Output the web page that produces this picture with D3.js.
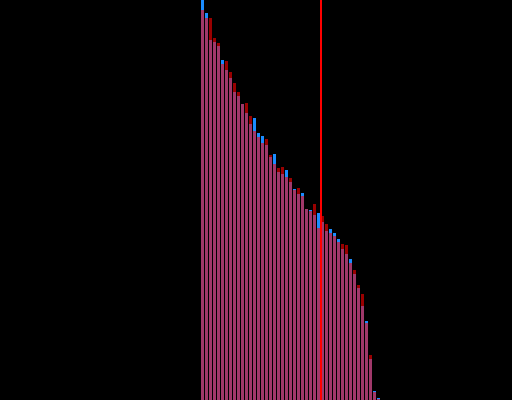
<!DOCTYPE html>
<html>
<head>
<meta charset="utf-8">
<script src="https://cdn.jsdelivr.net/npm/d3@7/dist/d3.min.js"></script>
<style>
    html, body { margin: 0; padding: 0; background: #000; overflow: hidden; }
</style>
</head>
<body>
<div id="svgDiv"></div>
<script>
    // values before and after the step (bar index = position)
    var previous = [390, 382, 382, 362, 357, 336, 339, 328, 317, 308,
                    296, 297, 284, 269, 263, 257, 261, 245, 236, 232,
                    233, 223, 222, 210, 212, 204, 191, 189, 196, 172,
                    184, 176, 167, 164, 158, 156, 155, 137, 130, 115,
                    106, 77, 45, 8, 1];
    var current = [400, 387, 360, 358, 354, 340, 330, 322, 308, 304,
                   296, 287, 276, 282, 267, 264, 255, 243, 246, 228,
                   226, 230, 218, 211, 206, 207, 191, 190, 185, 187,
                   178, 169, 171, 167, 161, 151, 146, 141, 126, 112,
                   94, 79, 41, 9, 2];
    var markerIndex = 30;

    var width = 512, height = 400;

    var svg = d3.select('#svgDiv').append('svg')
        .attr('width', width)
        .attr('height', height)
        .style('display', 'block')
        .style('background', '#000');

    var data = previous.map(function (p, i) {
        return {i: i, prev: p, cur: current[i]};
    });

    var x = d3.scaleBand()
        .domain(d3.range(data.length))
        .range([200.5, 200.5 + data.length * 4])
        .paddingInner(0.25)
        .paddingOuter(0.125);

    var y = d3.scaleLinear()
        .domain([0, 400])
        .range([height, 0]);

    // common part
    svg.append('g').selectAll('rect')
        .data(data)
        .enter().append('rect')
        .attr('x', function (d) { return x(d.i); })
        .attr('width', x.bandwidth())
        .attr('y', function (d) { return y(Math.min(d.prev, d.cur)); })
        .attr('height', function (d) { return y(0) - y(Math.min(d.prev, d.cur)); })
        .attr('fill', '#a0386a');

    // change part: blue = up, dark red = down
    svg.append('g').selectAll('rect')
        .data(data.filter(function (d) { return d.prev !== d.cur; }))
        .enter().append('rect')
        .attr('x', function (d) { return x(d.i); })
        .attr('width', x.bandwidth())
        .attr('y', function (d) { return y(Math.max(d.prev, d.cur)); })
        .attr('height', function (d) { return y(Math.min(d.prev, d.cur)) - y(Math.max(d.prev, d.cur)); })
        .attr('fill', function (d) { return d.cur > d.prev ? '#1a8cff' : '#990000'; });

    // marker line
    svg.append('line')
        .attr('x1', x(markerIndex))
        .attr('x2', x(markerIndex))
        .attr('y1', 0)
        .attr('y2', height)
        .attr('stroke', '#ff0000')
        .attr('stroke-width', 2);
</script>
</body>
</html>
